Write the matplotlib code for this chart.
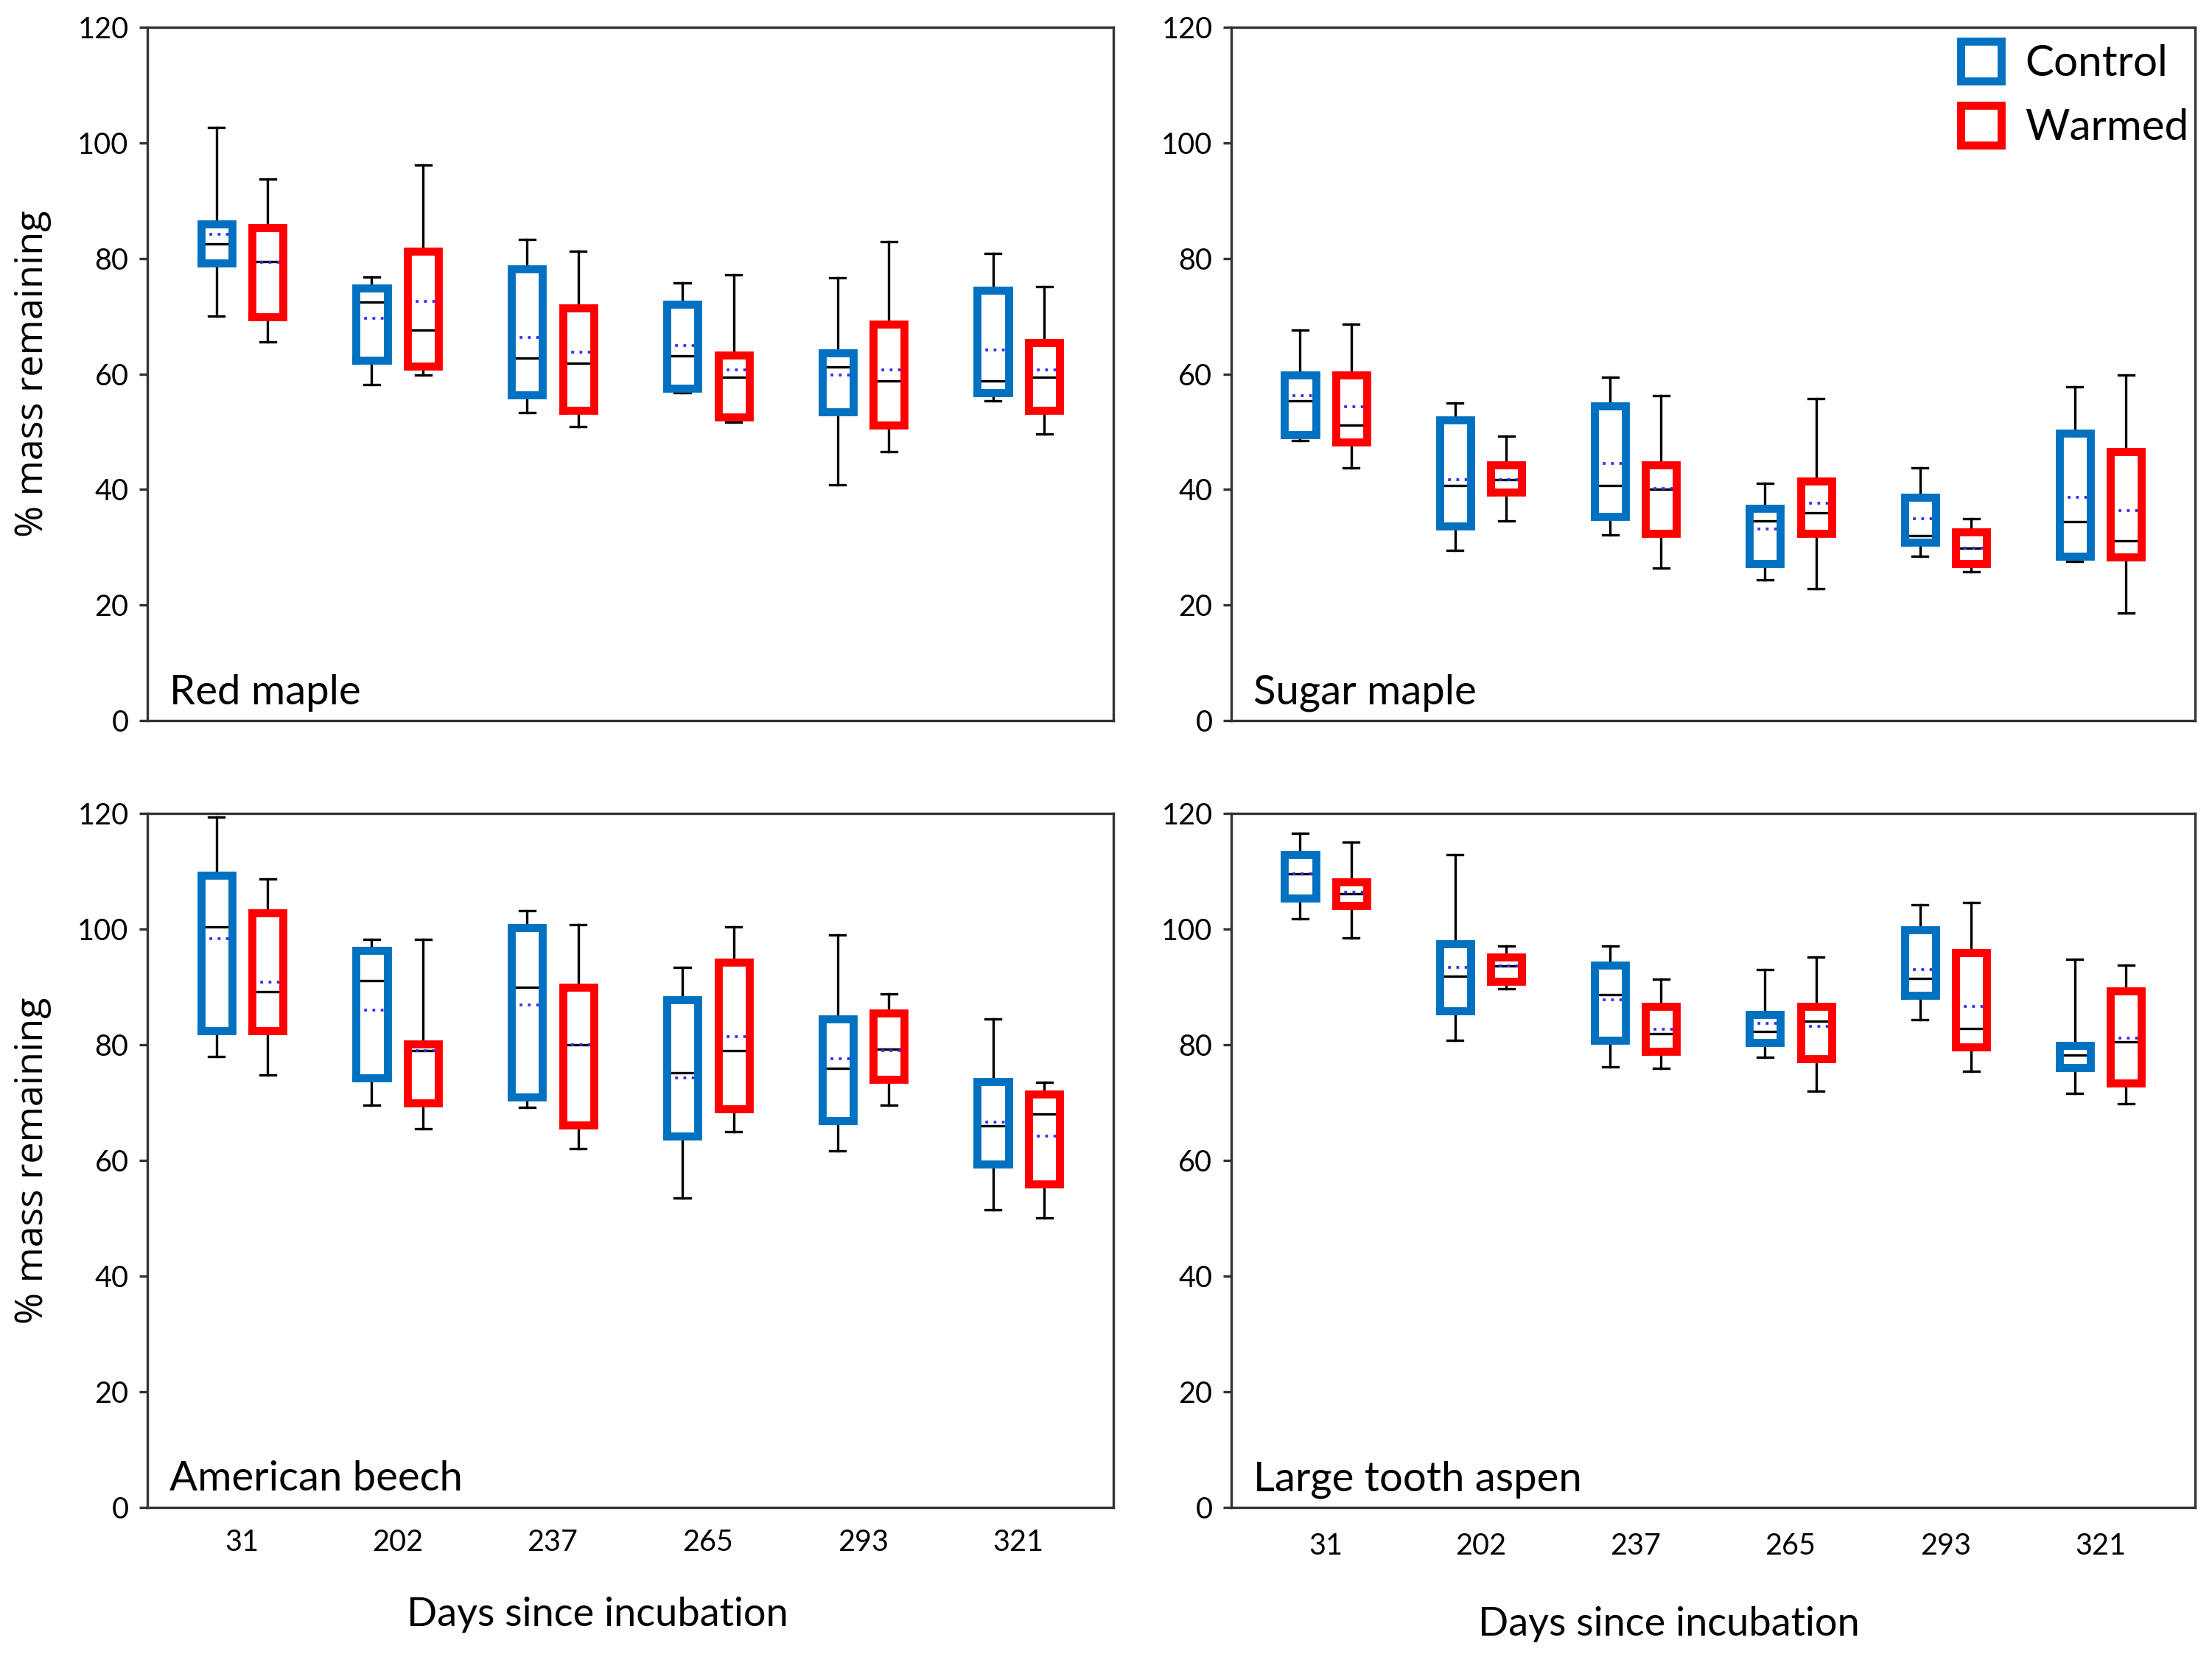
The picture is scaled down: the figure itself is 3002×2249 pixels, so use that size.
import matplotlib
matplotlib.use('Agg')

from matplotlib import pyplot as plt
from matplotlib.patches import Patch

plt.rcParams['font.family'] = ['Lato', 'DejaVu Sans']
plt.rcParams['axes.unicode_minus'] = False

days = ['31', '202', '237', '265', '293', '321']
treatments = ['Control', 'Warmed']
species = ['Red maple', 'Sugar maple', 'American beech', 'Large tooth aspen']

# each row: whisker low, Q1, median, mean, Q3, whisker high (one row per day)
red_maple_control = [
    [70.0, 79.2, 82.5, 84.2, 86.0, 102.7],
    [58.1, 62.4, 72.4, 69.6, 74.9, 76.8],
    [53.3, 56.4, 62.8, 66.3, 78.2, 83.3],
    [56.7, 57.5, 63.2, 64.9, 72.1, 75.8],
    [40.8, 53.4, 61.2, 59.8, 63.7, 76.7],
    [55.4, 56.8, 58.8, 64.1, 74.5, 80.8],
]
red_maple_warmed = [
    [65.5, 69.9, 79.5, 79.3, 85.3, 93.7],
    [59.8, 61.3, 67.6, 72.6, 81.3, 96.2],
    [50.9, 53.7, 61.8, 63.8, 71.4, 81.2],
    [51.6, 52.5, 59.4, 60.7, 63.3, 77.2],
    [46.6, 51.1, 58.8, 60.7, 68.6, 82.9],
    [49.6, 53.7, 59.4, 60.7, 65.4, 75.1],
]
sugar_maple_control = [
    [48.5, 49.5, 55.4, 56.3, 59.8, 67.6],
    [29.5, 33.7, 40.7, 41.7, 52.1, 55.0],
    [32.2, 35.4, 40.7, 44.5, 54.5, 59.4],
    [24.4, 27.2, 34.6, 33.2, 36.7, 41.1],
    [28.5, 30.9, 32.0, 35.0, 38.7, 43.7],
    [27.6, 28.5, 34.4, 38.7, 49.7, 57.8],
]
sugar_maple_warmed = [
    [43.7, 48.2, 51.2, 54.3, 59.8, 68.6],
    [34.6, 39.5, 41.7, 41.7, 44.3, 49.2],
    [26.4, 32.4, 40.1, 40.2, 44.3, 56.3],
    [22.8, 32.4, 36.0, 37.6, 41.5, 55.7],
    [25.8, 27.2, 29.9, 29.9, 32.6, 34.9],
    [18.6, 28.3, 31.1, 36.3, 46.6, 59.8],
]
beech_control = [
    [77.9, 82.4, 100.4, 98.3, 109.3, 119.4],
    [69.5, 74.3, 91.1, 86.0, 96.3, 98.2],
    [69.1, 71.0, 89.9, 86.8, 100.2, 103.1],
    [53.5, 64.2, 75.2, 74.2, 87.8, 93.3],
    [61.7, 66.9, 75.9, 77.6, 84.4, 99.0],
    [51.4, 59.4, 66.0, 66.6, 73.6, 84.4],
]
beech_warmed = [
    [74.8, 82.4, 89.2, 90.8, 102.8, 108.6],
    [65.4, 69.9, 78.9, 78.9, 80.1, 98.2],
    [62.0, 66.1, 80.0, 80.0, 89.9, 100.8],
    [65.0, 68.9, 78.9, 81.4, 94.3, 100.4],
    [69.5, 74.0, 79.2, 78.9, 85.5, 88.8],
    [50.0, 55.9, 68.0, 64.2, 71.5, 73.5],
]
aspen_control = [
    [101.8, 105.3, 109.5, 109.5, 112.9, 116.6],
    [80.8, 85.8, 91.8, 93.4, 97.4, 112.8],
    [76.2, 80.7, 88.7, 87.7, 93.8, 97.1],
    [77.8, 80.4, 82.3, 83.7, 85.2, 93.0],
    [84.3, 88.5, 91.4, 93.0, 99.9, 104.2],
    [71.6, 76.0, 78.2, 79.4, 79.9, 94.8],
]
aspen_warmed = [
    [98.5, 104.1, 106.1, 106.3, 108.1, 115.0],
    [89.7, 90.9, 93.6, 93.6, 95.1, 97.1],
    [75.9, 78.8, 81.9, 82.7, 86.6, 91.3],
    [72.0, 77.6, 84.0, 83.2, 86.6, 95.2],
    [75.4, 79.6, 82.8, 86.6, 95.9, 104.6],
    [69.8, 73.3, 80.5, 81.1, 89.3, 93.7],
]

panels = [
    (red_maple_control, red_maple_warmed),
    (sugar_maple_control, sugar_maple_warmed),
    (beech_control, beech_warmed),
    (aspen_control, aspen_warmed),
]

colors = ['#0070C0', '#FF0000']
offsets = [-0.165, 0.165]
spine_col = '#333333'

# axes rectangles in figure fractions (left, bottom, width, height)
rects = [
    [0.0666, 0.5651, 0.4367, 0.4184],
    [0.5566, 0.5651, 0.4357, 0.4184],
    [0.0666, 0.0903, 0.4367, 0.4189],
    [0.5566, 0.0903, 0.4357, 0.4189],
]


def to_stats(rows):
    out = []
    for lo, q1, med, mean, q3, hi in rows:
        out.append({'whislo': lo, 'q1': q1, 'med': med, 'mean': mean,
                    'q3': q3, 'whishi': hi, 'fliers': []})
    return out


fig = plt.figure(figsize=(3002 / 300, 2249 / 300), dpi=300)

for i, (name, groups) in enumerate(zip(species, panels)):
    ax = fig.add_axes(rects[i])
    for j, rows in enumerate(groups):
        pos = [k + offsets[j] for k in range(len(days))]
        ax.bxp(to_stats(rows), positions=pos, widths=0.2, capwidths=0.1,
               showmeans=True, meanline=True, showfliers=False,
               boxprops=dict(color=colors[j], linewidth=2.6,
                             solid_joinstyle='miter', zorder=3),
               whiskerprops=dict(color='black', linewidth=0.8, zorder=1),
               capprops=dict(color='black', linewidth=0.8, zorder=1),
               medianprops=dict(color='black', linewidth=0.8, zorder=2),
               meanprops=dict(color='#3030FF', linewidth=0.9,
                              linestyle=(0, (1, 2)), zorder=2))

    ax.set_xlim(-0.61, 5.61)
    ax.set_ylim(0, 120)
    ax.set_yticks(range(0, 121, 20))
    ax.set_xticks(range(len(days)))
    for s in ax.spines.values():
        s.set_color(spine_col)
        s.set_linewidth(0.8)
    ax.tick_params(axis='y', direction='out', length=2.6, width=0.8,
                   color=spine_col, labelsize=9.5, pad=3.5)
    ax.tick_params(axis='x', length=0, labelsize=9.5,
                   pad=7 if i == 2 else 8.2)
    if i < 2:
        ax.set_xticklabels([])
    else:
        ax.set_xticklabels(days)
        ax.set_xlabel('Days since incubation', fontsize=13)
        ax.xaxis.set_label_coords(0.466 if i == 2 else 0.454,
                                  -0.128 if i == 2 else -0.1425)
    if i % 2 == 0:
        ax.set_ylabel('% mass remaining', fontsize=12.5,
                      family=['Open Sans', 'DejaVu Sans'])
        ax.yaxis.set_label_coords(-0.099, 0.5)
    ax.text(0.023, 0.024, name, transform=ax.transAxes, fontsize=13.5,
            ha='left', va='baseline')

    if i == 1:
        handles = [Patch(facecolor='white', edgecolor=c, linewidth=2.6,
                         joinstyle='miter', label=t)
                   for c, t in zip(colors, treatments)]
        ax.legend(handles=handles, loc='upper right',
                  bbox_to_anchor=(1.0115, 1.005), frameon=False,
                  fontsize=14, handlelength=0.95, handleheight=1.05,
                  handletextpad=0.55, labelspacing=0.52,
                  borderaxespad=0.1, borderpad=0.3)

fig.savefig('out.png', dpi=300)
plt.close(fig)
